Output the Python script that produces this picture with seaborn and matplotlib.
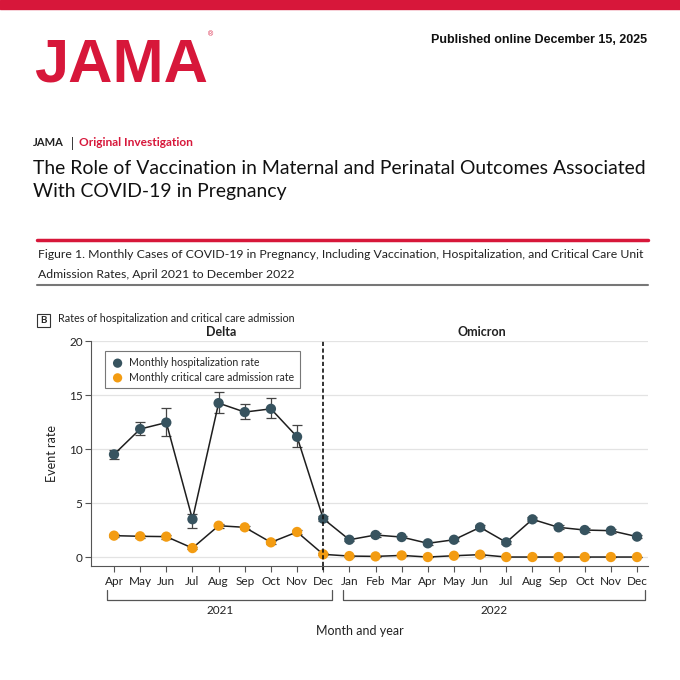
import numpy as np
import pandas as pd
import matplotlib
matplotlib.use("Agg")
import matplotlib.pyplot as plt
import seaborn as sns
from matplotlib.patches import Rectangle
from matplotlib.lines import Line2D

# data
months = ["Apr", "May", "Jun", "Jul", "Aug", "Sep", "Oct", "Nov", "Dec",
          "Jan", "Feb", "Mar", "Apr", "May", "Jun", "Jul", "Aug", "Sep", "Oct", "Nov", "Dec"]
years = ["2021"] * 9 + ["2022"] * 12
hosp_rate = [9.5, 11.85, 12.45, 3.5, 14.25, 13.42, 13.72, 11.13, 3.55,
             1.6, 2.04, 1.85, 1.27, 1.6, 2.75, 1.36, 3.49, 2.75, 2.5, 2.44, 1.89]
hosp_lo = [9.1, 11.28, 11.2, 2.72, 13.29, 12.77, 12.83, 10.2, 3.3,
           1.45, 1.9, 1.72, 1.15, 1.48, 2.55, 1.24, 3.3, 2.57, 2.33, 2.26, 1.75]
hosp_hi = [9.9, 12.46, 13.8, 3.95, 15.24, 14.13, 14.75, 12.18, 3.8,
           1.75, 2.18, 1.98, 1.39, 1.72, 2.95, 1.48, 3.68, 2.93, 2.67, 2.62, 2.03]
icu_rate = [1.98, 1.92, 1.89, 0.83, 2.9, 2.75, 1.36, 2.32, 0.25,
            0.09, 0.06, 0.15, 0.0, 0.12, 0.22, 0.0, 0.0, 0.0, 0.0, 0.0, 0.0]
icu_lo = [1.82, 1.78, 1.7, 0.7, 2.72, 2.6, 1.22, 2.14, 0.17,
          0.03, 0.01, 0.08, 0.0, 0.06, 0.14, 0.0, 0.0, 0.0, 0.0, 0.0, 0.0]
icu_hi = [2.14, 2.06, 2.08, 0.96, 3.08, 2.9, 1.5, 2.5, 0.33,
          0.15, 0.11, 0.22, 0.03, 0.18, 0.3, 0.03, 0.03, 0.03, 0.03, 0.03, 0.03]

idx = np.arange(len(months))
df = pd.DataFrame({"idx": idx, "month": months, "year": years,
                   "hosp": hosp_rate, "icu": icu_rate})

sns.set_theme(style="white")
plt.rcParams['font.family'] = ['Lato', 'DejaVu Sans']

RED = "#D7173A"
DARK = "#37535F"
ORANGE = "#F39C12"
TXT = "#222222"

fig = plt.figure(figsize=(6.8, 6.8), dpi=100)
renderer = fig.canvas.get_renderer()


def fy(p):
    return 1 - p / 680.0


def fx(p):
    return p / 680.0


def fit(t, width_px):
    # scale font so the text spans the width seen in the reference
    w = t.get_window_extent(renderer).width
    t.set_fontsize(t.get_fontsize() * width_px / w)
    return t


# header
fig.patches.append(Rectangle((0, fy(9)), 1, 9 / 680, transform=fig.transFigure,
                             color=RED, zorder=5))
logo = fig.text(fx(34), fy(81), "JAMA", color=RED, fontsize=40, fontweight="bold",
                family=["Liberation Sans", "DejaVu Sans"], va="baseline")
fit(logo, 174)
fig.text(fx(210), fy(35), "®", color=RED, fontsize=5, va="center", ha="center",
         family=["Liberation Sans", "DejaVu Sans"])
pub = fig.text(fx(647), fy(40), "Published online December 15, 2025", color="#111111",
               fontsize=10, fontweight="bold", ha="right", va="center",
               family=["Liberation Sans", "DejaVu Sans"])
fit(pub, 217)

j = fig.text(fx(33), fy(143), "JAMA", fontsize=9.5, fontweight="bold", color=TXT, va="center")
fit(j, 31)
fig.text(fx(72), fy(143), "|", fontsize=9, color=TXT, va="center", ha="center")
oi = fig.text(fx(79), fy(143), "Original Investigation", fontsize=9.5, fontweight="bold",
              color=RED, va="center")
fit(oi, 114)
t1 = fig.text(fx(33), fy(168), "The Role of Vaccination in Maternal and Perinatal Outcomes Associated",
              fontsize=15, color="#111111", va="center")
fit(t1, 613)
fig.text(fx(33), fy(192), "With COVID-19 in Pregnancy", fontsize=t1.get_fontsize(),
         color="#111111", va="center")

fig.add_artist(Line2D([fx(37), fx(648)], [fy(240), fy(240)], color=RED, lw=2.5,
                      transform=fig.transFigure))
c1 = fig.text(fx(38), fy(255), "Figure 1. Monthly Cases of COVID-19 in Pregnancy, Including Vaccination, "
              "Hospitalization, and Critical Care Unit", fontsize=10, color=TXT, va="center")
fit(c1, 606)
fig.text(fx(38), fy(274), "Admission Rates, April 2021 to December 2022",
         fontsize=c1.get_fontsize(), color=TXT, va="center")
fig.add_artist(Line2D([fx(37), fx(648)], [fy(285), fy(285)], color="#777777", lw=1.5,
                      transform=fig.transFigure))

# panel label
fig.patches.append(Rectangle((fx(37), fy(327)), 13 / 680, 13 / 680, transform=fig.transFigure,
                             fill=False, edgecolor="#333333", lw=0.8))
fig.text(fx(43.5), fy(320.5), "B", fontsize=7, fontweight="bold", ha="center", va="center",
         color=TXT)
pt = fig.text(fx(58), fy(319), "Rates of hospitalization and critical care admission", fontsize=9,
              color=TXT, va="center")
fit(pt, 237)

# main axes
ax = fig.add_axes([fx(91), fy(566), (648 - 91) / 680, (566 - 341) / 680])
ax.set_xlim(-0.88, 20.42)
ax.set_ylim(-0.83, 20)

ax.yaxis.grid(True, color="#E3E3E3", lw=0.9)
ax.set_axisbelow(True)

hosp_err = [np.array(hosp_rate) - np.array(hosp_lo), np.array(hosp_hi) - np.array(hosp_rate)]
icu_err = [np.array(icu_rate) - np.array(icu_lo), np.array(icu_hi) - np.array(icu_rate)]

ax.errorbar(idx, hosp_rate, yerr=hosp_err, fmt="none", ecolor="#444444", elinewidth=0.9,
            capsize=3.5, capthick=0.9, zorder=2)
ax.errorbar(idx, icu_rate, yerr=icu_err, fmt="none", ecolor="#444444", elinewidth=0.9,
            capsize=3.5, capthick=0.9, zorder=2)

sns.lineplot(data=df, x="idx", y="hosp", ax=ax, color="#1E1E1E", lw=1.1, zorder=3)
sns.lineplot(data=df, x="idx", y="icu", ax=ax, color="#1E1E1E", lw=1.1, zorder=3)
sns.scatterplot(data=df, x="idx", y="hosp", ax=ax, color=DARK, s=55, edgecolor="none",
                zorder=4, label="Monthly hospitalization rate")
sns.scatterplot(data=df, x="idx", y="icu", ax=ax, color=ORANGE, s=55, edgecolor="none",
                zorder=4, label="Monthly critical care admission rate")

ax.axvline(8, ymin=0, ymax=1, color="#111111", ls=(0, (2.5, 1.5)), lw=1.2, zorder=5,
           clip_on=False)
ax.plot([8, 8], [-0.83, -1.3], color="#111111", ls=(0, (2.5, 1.5)), lw=1.2, clip_on=False)

ax.set_xticks(idx)
ax.set_xticklabels(months)
ax.set_yticks([0, 5, 10, 15, 20])
ax.tick_params(axis="both", which="both", length=4, width=0.8, color="#555555",
               labelsize=8.5, labelcolor=TXT, pad=2)
ax.tick_params(axis="x", pad=3)
ax.tick_params(axis="y", left=True)
ax.tick_params(axis="x", bottom=True)
for s in ["top", "right"]:
    ax.spines[s].set_visible(False)
for s in ["left", "bottom"]:
    ax.spines[s].set_color("#555555")
    ax.spines[s].set_linewidth(0.8)

ax.set_xlabel("")
ax.set_ylabel("Event rate", fontsize=9, color=TXT, labelpad=8)

ax.text(4.1, 20.25, "Delta", fontsize=9, fontweight="bold", ha="center", va="bottom", color=TXT)
ax.text(14.05, 20.25, "Omicron", fontsize=9, fontweight="bold", ha="center", va="bottom", color=TXT)

leg = ax.legend(loc="upper left", bbox_to_anchor=(0.025, 0.955), borderaxespad=0,
                frameon=True, fontsize=7.6, handletextpad=0.4, borderpad=0.55,
                labelspacing=0.35, handlelength=1.3, fancybox=False, edgecolor="#555555",
                markerscale=0.9)
leg.get_frame().set_linewidth(0.8)

# year brackets below the axis
trans = ax.get_xaxis_transform()
for x0, x1, lab in [(-0.25, 8.35, "2021"), (8.75, 20.3, "2022")]:
    ax.plot([x0, x0, x1, x1], [-0.108, -0.15, -0.15, -0.108], color="#555555", lw=0.9,
            transform=trans, clip_on=False)
    ax.text((x0 + x1) / 2, -0.172, lab, fontsize=8.5, ha="center", va="top", color=TXT,
            transform=trans)
ax.text(9.4, -0.262, "Month and year", fontsize=9, ha="center", va="top", color=TXT,
        transform=trans)

fig.savefig("out.png", dpi=100)
